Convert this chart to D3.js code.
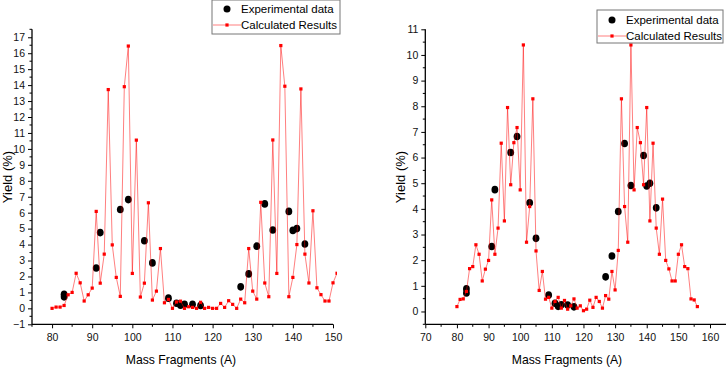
<!DOCTYPE html>
<html>
<head>
<meta charset="utf-8">
<script src="https://cdn.jsdelivr.net/npm/d3@7"></script>
<style>
  body { margin: 0; background: #fff; }
  svg { display: block; font-family: 'Liberation Sans', Arial, sans-serif; }
</style>
</head>
<body>
<div id="chart"></div>
<script>
// Data
const massLeft = [80,81,82,83,84,85,86,87,88,89,90,91,92,93,94,95,96,97,98,99,100,101,102,103,104,105,106,107,108,109,110,111,112,113,114,115,116,117,118,119,120,121,122,123,124,125,126,127,128,129,130,131,132,133,134,135,136,137,138,139,140,141,142,143,144,145,146,147,148,149,150,151]
const calcLeft = [0.0,0.08,0.08,0.18,0.85,1.0,2.2,1.6,0.46,0.85,1.27,6.08,1.58,3.4,13.72,3.98,1.94,0.75,13.9,16.45,2.19,10.55,0.71,1.58,6.62,0.52,1.08,3.75,0.35,0.56,0.0,0.4,0.45,0.0,0.1,0.06,0.0,0.38,0.0,0.06,0.0,0.0,0.31,0.06,0.48,0.25,0.0,0.58,0.35,3.75,1.08,0.58,6.65,1.59,0.73,10.56,2.19,16.48,13.93,0.73,1.94,4.0,13.76,3.4,1.59,6.12,1.29,0.86,0.46,0.46,1.6,2.2]

const massRight = [80,81,82,83,84,85,86,87,88,89,90,91,92,93,94,95,96,97,98,99,100,101,102,103,104,105,106,107,108,109,110,111,112,113,114,115,116,117,118,119,120,121,122,123,124,125,126,127,128,129,130,131,132,133,134,135,136,137,138,139,140,141,142,143,144,145,146,147,148,149,150,151,152,153,154,155,156]
const calcRight = [0.19,0.47,0.49,0.78,1.67,1.75,2.6,2.23,1.19,1.65,1.99,4.35,2.23,3.25,6.56,3.53,7.95,4.94,6.58,7.17,4.74,10.39,2.7,4.09,8.29,2.36,0.82,1.56,0.48,0.55,0.13,0.39,0.55,0.13,0.43,0.09,0.22,0.49,0.13,0.22,0.03,0.09,0.44,0.16,0.55,0.39,0.13,0.62,0.48,1.56,0.84,2.38,8.29,4.09,2.7,10.39,4.74,7.17,6.58,4.94,7.95,3.53,6.56,3.25,2.23,4.38,1.99,1.66,1.19,1.19,2.23,2.6,1.75,1.67,0.49,0.45,0.19]

const expMass = [83,83,91,92,97,99,103,105,109,111,112,113,115,117,127,129,131,133,135,139,140,141,143]
const expYield = [0.72,0.88,2.53,4.75,6.2,6.82,4.24,2.85,0.64,0.32,0.2,0.26,0.25,0.18,1.35,2.16,3.9,6.55,4.91,6.08,4.89,5.0,4.04]

const legendLabels = ['Experimental data', 'Calculated Results']

// Dimensions
const dimensions = { width: 726, height: 368 }

const svg = d3.select('#chart')
  .append('svg')
    .attr('width', dimensions.width)
    .attr('height', dimensions.height)

const panels = [
  {
    id: 'left', mass: massLeft, calc: calcLeft,
    xDomain: [75, 150], xRange: [32, 333], xTicks: [80, 90, 100, 110, 120, 130, 140, 150],
    xMinor: [75, 85, 95, 105, 115, 125, 135, 145],
    yDomain: [-1, 17.5], yRange: [324.3, 29.3], yTicks: d3.range(-1, 18),
    axisEnd: 333, clipRight: 337,
    yTitleX: 12, xTitleX: 181,
    legend: { x: 212, y: 0, w: 128, h: 34, row1: 9, row2: 25 }
  },
  {
    id: 'right', mass: massRight, calc: calcRight,
    xDomain: [70, 160], xRange: [425.3, 710], xTicks: [70, 80, 90, 100, 110, 120, 130, 140, 150, 160],
    xMinor: [75, 85, 95, 105, 115, 125, 135, 145, 155],
    yDomain: [-0.5, 11], yRange: [324.3, 29.3], yTicks: d3.range(0, 12),
    axisEnd: 726, clipRight: 726,
    yTitleX: 405, xTitleX: 567,
    legend: { x: 597, y: 10, w: 126, h: 33, row1: 20, row2: 36 }
  }
]

const lineColour = 'rgba(255, 0, 0, 0.5)'
const pointColour = '#ff0000'

panels.forEach(p => {
  const x = d3.scaleLinear().domain(p.xDomain).range(p.xRange)
  const y = d3.scaleLinear().domain(p.yDomain).range(p.yRange)
  const x0 = p.xRange[0]
  const yBottom = p.yRange[0]

  const g = svg.append('g')

  // axes
  const yMinor = d3.range(p.yDomain[0], p.yDomain[1] + 0.01, 0.5).filter(v => v % 1 !== 0)
  const yAxis = g.append('g')
    .attr('transform', `translate(${x0},0)`)
    .call(d3.axisLeft(y).tickValues(p.yTicks).tickSize(4).tickPadding(3).tickFormat(d3.format('d')))
  yAxis.select('.domain').attr('d', `M0,${yBottom}V${p.yRange[1]}`).attr('stroke-width', 1.3)
  yAxis.selectAll('.tick text').attr('font-size', 10.5).attr('fill', '#111')
  g.append('g')
    .attr('transform', `translate(${x0},0)`)
    .selectAll('line')
    .data(yMinor)
    .join('line')
    .attr('x1', -2.5).attr('x2', 0)
    .attr('y1', d => y(d)).attr('y2', d => y(d))
    .attr('stroke', '#000')

  const xAxis = g.append('g')
    .attr('transform', `translate(0,${yBottom})`)
    .call(d3.axisBottom(x).tickValues(p.xTicks).tickSize(4).tickPadding(5))
  xAxis.select('.domain').attr('d', `M${x0},0H${p.axisEnd}`).attr('stroke-width', 1.3)
  xAxis.selectAll('.tick text').attr('font-size', 10.5).attr('fill', '#111')
  g.append('g')
    .attr('transform', `translate(0,${yBottom})`)
    .selectAll('line')
    .data(p.xMinor)
    .join('line')
    .attr('x1', d => x(d)).attr('x2', d => x(d))
    .attr('y1', 0).attr('y2', 2.5)
    .attr('stroke', '#000')

  // titles
  g.append('text')
    .attr('transform', `translate(${p.yTitleX},177) rotate(-90)`)
    .attr('text-anchor', 'middle')
    .attr('font-size', 13)
    .text('Yield (%)')
  g.append('text')
    .attr('x', p.xTitleX).attr('y', 364)
    .attr('text-anchor', 'middle')
    .attr('font-size', 12.2)
    .text('Mass Fragments (A)')

  // chart
  svg.append('clipPath').attr('id', 'clip-' + p.id)
    .append('rect').attr('x', 0).attr('y', 0)
    .attr('width', p.clipRight).attr('height', dimensions.height)

  const plot = g.append('g').attr('clip-path', `url(#clip-${p.id})`)

  plot.selectAll('ellipse')
    .data(expMass)
    .join('ellipse')
    .attr('cx', d => x(d))
    .attr('cy', (d, i) => y(expYield[i]))
    .attr('rx', 3.4).attr('ry', 3.8)
    .attr('fill', '#000')

  const calcData = p.mass.map((m, i) => [m, p.calc[i]])
  plot.append('path')
    .datum(calcData)
    .attr('fill', 'none')
    .attr('stroke', lineColour)
    .attr('stroke-width', 1)
    .attr('d', d3.line().x(d => x(d[0])).y(d => y(d[1])))

  plot.selectAll('rect.pt')
    .data(calcData)
    .join('rect')
    .attr('class', 'pt')
    .attr('x', d => x(d[0]) - 1.6)
    .attr('y', d => y(d[1]) - 1.6)
    .attr('width', 3.2)
    .attr('height', 3.2)
    .attr('fill', pointColour)

  // legend
  const L = p.legend
  const lg = g.append('g')
  lg.append('rect')
    .attr('x', L.x).attr('y', L.y).attr('width', L.w).attr('height', L.h)
    .attr('fill', '#fff').attr('stroke', '#777').attr('stroke-width', 1)
  lg.append('circle')
    .attr('cx', L.x + 15).attr('cy', L.row1).attr('r', 3.5).attr('fill', '#000')
  lg.append('line')
    .attr('x1', L.x + 1).attr('x2', L.x + 29)
    .attr('y1', L.row2).attr('y2', L.row2)
    .attr('stroke', lineColour)
  lg.append('rect')
    .attr('x', L.x + 13.4).attr('y', L.row2 - 1.6).attr('width', 3.2).attr('height', 3.2)
    .attr('fill', pointColour)
  lg.selectAll('text')
    .data(legendLabels)
    .join('text')
    .attr('x', L.x + 29)
    .attr('y', (d, i) => (i === 0 ? L.row1 : L.row2) + 4)
    .attr('font-size', 11.5)
    .text(d => d)
})
</script>
</body>
</html>
